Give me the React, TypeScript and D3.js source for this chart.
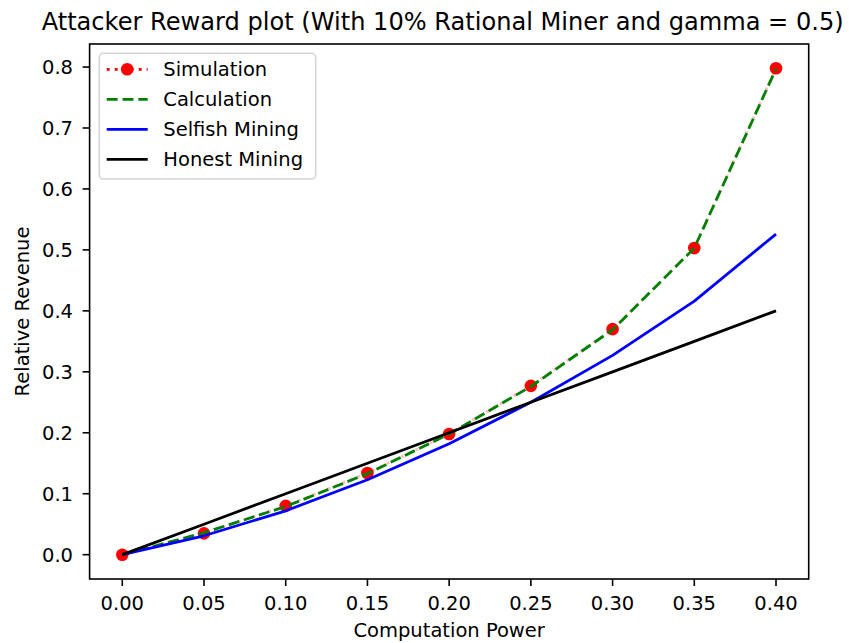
import React from "react";
import * as d3 from "d3";

// Attacker's share of mining power
const computationPower = [0, 0.05, 0.1, 0.15, 0.2, 0.25, 0.3, 0.35, 0.4];
// Simulated relative revenue
const simulation = [0, 0.035, 0.08, 0.134, 0.198, 0.277, 0.37, 0.503, 0.798];
// Analytical relative revenue
const calculation = [0, 0.036, 0.079, 0.133, 0.198, 0.276, 0.369, 0.503, 0.797];
// Classic selfish mining revenue (gamma = 0.5)
const selfishMining = [0, 0.031, 0.072, 0.123, 0.182, 0.25, 0.327, 0.416, 0.526];
// Honest mining revenue
const honestMining = [0, 0.05, 0.1, 0.15, 0.2, 0.25, 0.3, 0.35, 0.4];

const xTicks = [0, 0.05, 0.1, 0.15, 0.2, 0.25, 0.3, 0.35, 0.4];
const yTicks = [0, 0.1, 0.2, 0.3, 0.4, 0.5, 0.6, 0.7, 0.8];

const titleText = "Attacker Reward plot (With 10% Rational Miner and gamma = 0.5)";
const xLabel = "Computation Power";
const yLabel = "Relative Revenue";

const W = 849;
const H = 643;
const left = 89.6;
const right = 808.7;
const top = 44;
const bottom = 579;

const FONT = "'DejaVu Sans', sans-serif";
const FS = 19.5;

export default function App() {
  const x = d3.scaleLinear().domain([-0.02, 0.42]).range([left, right]);
  const y = d3.scaleLinear().domain([-0.0399, 0.8378]).range([bottom, top]);

  const mk = (vals: number[]) =>
    d3
      .line<number>()
      .x((_, i) => x(computationPower[i]))
      .y((d) => y(d))(vals) || "";

  const lw = 2.8;

  const legendItems = [
    { label: "Simulation", kind: "sim" },
    { label: "Calculation", kind: "calc" },
    { label: "Selfish Mining", kind: "self" },
    { label: "Honest Mining", kind: "honest" },
  ];
  const lgX = 99.3;
  const lgY = 53.3;
  const lgW = 216.4;
  const lgH = 125.7;
  const rowY0 = 69.3;
  const rowStep = 30;
  const hx0 = 106.7;
  const hx1 = 147.7;
  const tx = 163.3;

  return (
    <svg
      width={W}
      height={H}
      style={{ position: "fixed", left: 0, top: 0, background: "#fff" }}
      fontFamily={FONT}
    >
      <rect x={0} y={0} width={W} height={H} fill="#fff" />
      <text x={(left + right) / 2 - 6.5} y={29.5} fontSize={24.1} textAnchor="middle" fill="#000">
        {titleText}
      </text>

      <defs>
        <clipPath id="plotArea">
          <rect x={left} y={top} width={right - left} height={bottom - top} />
        </clipPath>
      </defs>

      <g clipPath="url(#plotArea)">
        {/* dotted simulation line sits underneath the calculation curve */}
        <path d={mk(simulation)} fill="none" stroke="#ff0000" strokeOpacity={0.25} strokeWidth={lw} strokeDasharray="3,5" />
        {simulation.map((v, i) => (
          <circle key={i} cx={x(computationPower[i])} cy={y(v)} r={6.3} fill="#ff0000" />
        ))}
        <path d={mk(calculation)} fill="none" stroke="#008000" strokeWidth={lw} strokeDasharray="11,4.8" />
        <path d={mk(selfishMining)} fill="none" stroke="#0000ff" strokeWidth={lw} strokeLinejoin="round" />
        <path d={mk(honestMining)} fill="none" stroke="#000" strokeWidth={lw} />
      </g>

      {/* spines */}
      <rect x={left} y={top} width={right - left} height={bottom - top} fill="none" stroke="#000" strokeWidth={1.6} />

      {/* x axis */}
      {xTicks.map((t) => (
        <g key={"x" + t}>
          <line x1={x(t)} x2={x(t)} y1={bottom} y2={bottom + 7} stroke="#000" strokeWidth={1.6} />
          <text x={x(t)} y={610} fontSize={FS} textAnchor="middle" fill="#000">
            {t.toFixed(2)}
          </text>
        </g>
      ))}
      {/* y axis */}
      {yTicks.map((t) => (
        <g key={"y" + t}>
          <line x1={left - 7} x2={left} y1={y(t)} y2={y(t)} stroke="#000" strokeWidth={1.6} />
          <text x={73} y={y(t)} dy="0.36em" fontSize={FS} textAnchor="end" fill="#000">
            {t.toFixed(1)}
          </text>
        </g>
      ))}

      <text x={(left + right) / 2} y={636.7} fontSize={FS} textAnchor="middle" fill="#000">
        {xLabel}
      </text>
      <text
        transform={`translate(29,${(top + bottom) / 2}) rotate(-90)`}
        fontSize={FS}
        textAnchor="middle"
        fill="#000"
      >
        {yLabel}
      </text>

      {/* legend */}
      <rect x={lgX} y={lgY} width={lgW} height={lgH} rx={4} fill="#fff" fillOpacity={0.8} stroke="#d5d5d5" strokeWidth={1.6} />
      {legendItems.map((it, i) => {
        const cy = rowY0 + i * rowStep;
        let handle: React.ReactNode = null;
        if (it.kind === "sim") {
          handle = (
            <g>
              <line x1={hx0} x2={hx1} y1={cy} y2={cy} stroke="#ff0000" strokeWidth={lw} strokeDasharray="3,5" />
              <circle cx={(hx0 + hx1) / 2} cy={cy} r={6.3} fill="#ff0000" />
            </g>
          );
        } else if (it.kind === "calc") {
          handle = <line x1={hx0} x2={hx1} y1={cy} y2={cy} stroke="#008000" strokeWidth={lw} strokeDasharray="11,4.8" />;
        } else if (it.kind === "self") {
          handle = <line x1={hx0} x2={hx1} y1={cy} y2={cy} stroke="#0000ff" strokeWidth={lw} />;
        } else {
          handle = <line x1={hx0} x2={hx1} y1={cy} y2={cy} stroke="#000" strokeWidth={lw} />;
        }
        return (
          <g key={it.label}>
            {handle}
            <text x={tx} y={cy} dy="0.36em" fontSize={FS} fill="#000">
              {it.label}
            </text>
          </g>
        );
      })}
    </svg>
  );
}
